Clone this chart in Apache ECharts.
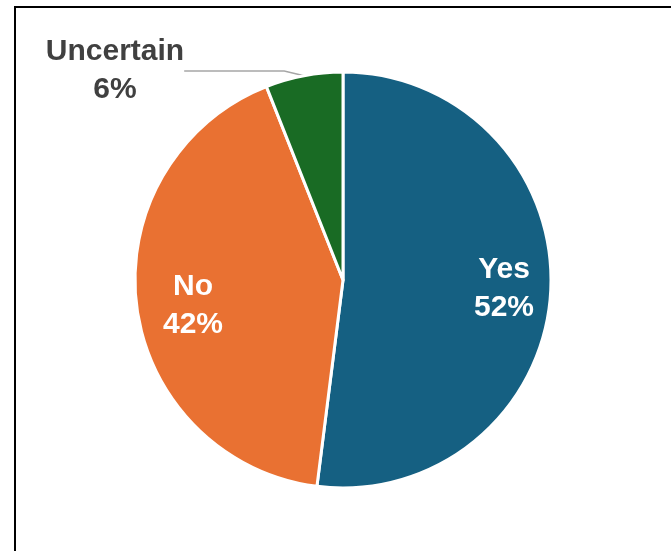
<!DOCTYPE html>
<html>
<head>
<meta charset="utf-8">
<script src="https://cdn.jsdelivr.net/npm/echarts@6/dist/echarts.min.js"></script>
<style>html,body{margin:0;padding:0;background:#fff}#c{width:671px;height:551px}</style>
</head>
<body>
<div id="c"></div>
<script>
const categories = ['Yes', 'No', 'Uncertain'];
const values = [52, 42, 6];
const colors = ['#156082', '#E97132', '#196B24'];

const CX = 343, CY = 280, R = 208;
const labelPos = [[504, 289], [193, 306], [115, 71]];
const chart = echarts.init(document.getElementById('c'), null, {renderer: 'canvas'});
const data = categories.map((name, i) => {
  const item = { name, value: values[i], itemStyle: { color: colors[i] } };
  if (i === 2) {
    item.label = { position: 'outside', color: '#404040' };
    item.labelLine = { show: true, length: 0, length2: 100, lineStyle: { color: '#A6A6A6', width: 1.5 } };
  }
  return item;
});

chart.setOption({
  animation: false,
  graphic: [{
    type: 'rect', shape: { x: 15, y: 7, width: 720, height: 620 },
    style: { fill: 'none', stroke: '#000', lineWidth: 2 }, z: 100
  }],
  series: [{
    type: 'pie',
    center: [CX, CY],
    radius: R,
    startAngle: 90,
    clockwise: true,
    data,
    itemStyle: { borderColor: '#fff', borderWidth: 3 },
    label: {
      show: true,
      position: 'inside',
      formatter: p => p.name + '\n' + Math.round(p.percent) + '%',
      fontFamily: 'Liberation Sans, Arial, sans-serif',
      fontWeight: 'bold',
      fontSize: 30,
      lineHeight: 38,
      color: '#fff',
      align: 'center'
    },
    labelLine: { show: false },
    labelLayout: function (params) {
      const p = labelPos[params.dataIndex];
      return { x: p[0], y: p[1], align: 'center', verticalAlign: 'middle' };
    }
  }]
});
</script>
</body>
</html>
